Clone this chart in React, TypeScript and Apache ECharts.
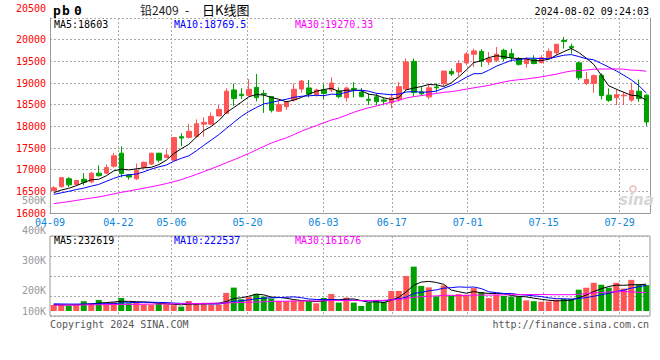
import React, { useEffect, useRef } from 'react';
import * as echarts from 'echarts';

const dates = [
  '04-09','04-10','04-11','04-12','04-15','04-16','04-17','04-18','04-19','04-22','04-23','04-24','04-25','04-26','04-29','04-30',
  '05-06','05-07','05-08','05-09','05-10','05-13','05-14','05-15','05-16','05-17','05-20','05-21','05-22','05-23','05-24','05-27','05-28','05-29','05-30','05-31',
  '06-03','06-04','06-05','06-06','06-07','06-11','06-12','06-13','06-14','06-17','06-18','06-19','06-20','06-21','06-24','06-25','06-26','06-27','06-28',
  '07-01','07-02','07-03','07-04','07-05','07-08','07-09','07-10','07-11','07-12','07-15','07-16','07-17','07-18','07-19','07-22','07-23','07-24','07-25','07-26','07-29','07-30','07-31',
  '08-01','08-02',
];

const opens = [
  16515,16605,16790,16660,16780,16720,16920,16920,17080,17380,
  16880,16790,17050,17130,17380,17280,17220,17760,17745,17770,
  18050,18050,18240,18300,18840,18740,18715,18900,18760,18690,
  18350,18455,18610,18860,18885,18730,18840,18840,18815,18660,
  18875,18790,18625,18680,18610,18545,18625,18860,19500,18795,
  18680,18910,18980,19270,19255,19465,19665,19730,19485,19525,
  19755,19680,19565,19450,19540,19470,19585,19695,19985,19845,
  19465,18990,18990,19180,18720,18660,18705,18605,18810,18720,
];
const closes = [
  16580,16815,16650,16750,16710,16920,16860,17050,17320,16910,
  16830,16980,17170,17380,17220,17340,17740,17730,17885,18060,
  18090,18230,18390,18810,18640,18710,18855,18660,18740,18370,
  18500,18560,18855,19045,18745,18840,18760,19000,18685,18885,
  18855,18685,18600,18570,18580,18660,18915,19485,18780,18750,
  18890,18890,19275,19210,19450,19670,19740,19505,19565,19665,
  19565,19585,19430,19540,19450,19585,19730,19895,19960,19815,
  19120,19080,19170,18710,18600,18730,18720,18825,18640,18100,
];
const lows = [
  16500,16590,16600,16640,16640,16690,16840,16900,17050,16820,
  16770,16760,17020,17110,17170,17270,17190,17540,17720,17740,
  17760,18030,18230,18280,18470,18630,18690,18575,18310,18320,
  18330,18380,18570,18775,18670,18685,18620,18790,18645,18570,
  18670,18670,18490,18485,18485,18415,18570,18835,18680,18720,
  18625,18780,18930,19165,19165,19410,19370,19370,19410,19485,
  19500,19500,19400,19355,19430,19450,19560,19640,19795,19680,
  19065,18950,18775,18620,18565,18490,18490,18565,18565,18005,
];
const highs = [
  16620,16830,16830,16760,16920,16950,17100,17120,17390,17540,
  16900,17140,17190,17390,17385,17470,17750,17840,18060,18160,
  18210,18320,18490,18880,18985,18880,19090,19210,18840,18700,
  18600,18590,18990,19070,19070,18870,18975,19130,18900,18915,
  19025,18885,18760,18760,18670,18760,19025,19565,19565,18910,
  18990,18990,19280,19335,19525,19715,19790,19780,19715,19830,
  19790,19790,19600,19600,19640,19640,19795,19895,20060,19910,
  19485,19255,19200,19220,18875,18850,18795,19005,19080,18740,
];
const volumes = [
  53000,53000,44000,50000,85000,67000,96000,67000,76000,113000,
  67000,79000,57000,55000,67000,58000,50000,38000,87000,70000,
  70000,56000,56000,157000,203000,102000,122000,148000,125000,108000,
  88000,85000,90000,86000,84000,67000,113000,148000,73000,116000,
  73000,44000,73000,96000,79000,174000,174000,304000,385000,218000,
  205000,127000,222000,136000,147000,141000,199000,165000,112000,141000,
  130000,125000,126000,92000,85000,81000,83000,98000,104000,105910,
  185000,202000,245000,228000,202275,245000,195000,270300,228000,224795,
];

// moving-average values for the days before a full window exists
const ma5Lead = [16470, 16530, 16570, 16630];
const ma10Lead = [16430, 16465, 16500, 16540, 16575, 16620, 16660, 16730, 16800];
const ma30Lead = [16215,16240,16262,16290,16318,16345,16372,16405,16440,16478,16505,16540,16572,16605,16640,16680,16722,16770,16828,16890,16955,17020,17088,17158,17228,17300,17372,17455,17535];
const volMa5Lead = [55000, 53000, 52000, 54000];
const volMa10Lead = [62000, 61000, 60000, 60000, 61000, 62000, 63000, 63000, 64000];
const volMa30Lead = [50000,51000,51000,52000,53000,54000,54000,55000,56000,57000,57000,58000,59000,60000,61000,61000,62000,63000,64000,65000,66000,67000,68000,70000,72000,74000,76000,78000,80000];

const labelIdx = [0, 9, 16, 26, 36, 45, 55, 65, 75];
const volAxisLabels = ['400K', '300K', '200K', '100K'];

const RED = '#FF5555';
const GREEN = '#00A000';
const MONO = '"DejaVu Sans Mono", monospace';
const GRID_LINE = { type: [2, 2] as any, color: '#aaaaaa', width: 1 };

function movingAverage(values: number[], n: number, lead: number[]) {
  return values.map((_, i) => {
    if (i < n - 1) return lead[i];
    let s = 0;
    for (let k = i - n + 1; k <= i; k++) s += values[k];
    return s / n;
  });
}
const fmt = (v: number) => String(Math.round(v * 100) / 100);

function txt(text: string, x: number, y: number, fill: string, align = 'left', font = `10px ${MONO}`) {
  return { type: 'text', x, y, silent: true, z: 100, style: { text, fill, font, align, verticalAlign: 'middle' } };
}

export default function App() {
  const ref = useRef<HTMLDivElement>(null);
  useEffect(() => {
    if (!ref.current) return;
    const chart = echarts.init(ref.current, null, { renderer: 'svg' });
    const ma5 = movingAverage(closes, 5, ma5Lead);
    const ma10 = movingAverage(closes, 10, ma10Lead);
    const ma30 = movingAverage(closes, 30, ma30Lead);
    const vma5 = movingAverage(volumes, 5, volMa5Lead);
    const vma10 = movingAverage(volumes, 10, volMa10Lead);
    const vma30 = movingAverage(volumes, 30, volMa30Lead);
    const last = dates.length - 1;
    const candles = dates.map((_, i) => [opens[i], closes[i], lows[i], highs[i]]);
    const volBars = volumes.map((v, i) => ({ value: v, itemStyle: { color: closes[i] >= opens[i] ? RED : GREEN } }));
    const showIdx = (i: number) => labelIdx.includes(i);
    const splitIdx = (i: number) => labelIdx.includes(i) && i !== 0;
    const lineSeries = (data: number[], color: string, xi: number, yi: number) => ({
      type: 'line', data, xAxisIndex: xi, yAxisIndex: yi, symbol: 'none', showSymbol: false,
      lineStyle: { width: 1, color }, itemStyle: { color }, z: 5, silent: true,
    });
    const volLabelY = [230, 260, 290, 311];

    const option: any = {
      animation: false,
      backgroundColor: '#ffffff',
      grid: [
        { left: 50, top: 18, width: 600, height: 195 },
        { left: 50, top: 236, width: 600, height: 80, show: true, borderColor: '#999999', borderWidth: 1, backgroundColor: 'transparent' },
      ],
      xAxis: [
        { type: 'category', gridIndex: 0, position: 'bottom', data: dates, boundaryGap: true, show: false },
        {
          type: 'category', gridIndex: 0, position: 'bottom', data: dates, boundaryGap: false,
          axisLine: { show: true, lineStyle: { color: '#999999' } },
          axisTick: { show: false },
          axisLabel: { interval: showIdx, color: '#0a85d9', fontFamily: MONO, fontSize: 10, margin: 4 },
          splitLine: { show: true, interval: splitIdx, lineStyle: GRID_LINE },
        },
        { type: 'category', gridIndex: 1, position: 'bottom', data: dates, boundaryGap: true, show: false },
        {
          type: 'category', gridIndex: 1, position: 'bottom', data: dates, boundaryGap: false,
          axisLine: { show: false }, axisTick: { show: false }, axisLabel: { show: false },
          splitLine: { show: true, interval: splitIdx, lineStyle: GRID_LINE },
        },
      ],
      yAxis: [
        {
          type: 'value', gridIndex: 0, position: 'left', min: 16000, max: 20500, interval: 500,
          axisLine: { show: true, lineStyle: { color: '#999999' } },
          axisTick: { show: false },
          axisLabel: {
            color: '#FF0000', fontFamily: MONO, fontSize: 10, margin: 4,
            formatter: (v: number) => (v === 20500 ? '{top|20500}' : String(v)),
            rich: { top: { color: '#FF0000', fontFamily: MONO, fontSize: 10, padding: [0, 0, 20, 0] } },
          },
          splitLine: { show: true, lineStyle: GRID_LINE },
        },
        {
          type: 'value', gridIndex: 0, position: 'right', min: 16000, max: 20500, interval: 500,
          axisLine: { show: true, lineStyle: { color: '#999999' } },
          axisTick: { show: false }, axisLabel: { show: false }, splitLine: { show: false },
        },
        {
          type: 'value', gridIndex: 1, position: 'left', min: 0, max: 4, interval: 1,
          axisLine: { show: false }, axisTick: { show: false }, axisLabel: { show: false },
          splitLine: { show: true, lineStyle: GRID_LINE },
        },
        {
          type: 'value', gridIndex: 1, position: 'left', min: -43400, max: 651000,
          axisLine: { show: false }, axisTick: { show: false }, axisLabel: { show: false },
          splitLine: { show: false },
        },
      ],
      series: [
        {
          type: 'candlestick', data: candles, xAxisIndex: 0, yAxisIndex: 0, barWidth: 5, silent: true,
          itemStyle: { color: RED, color0: GREEN, borderColor: RED, borderColor0: GREEN, borderWidth: 1 },
        },
        lineSeries(ma5, '#000000', 0, 0),
        lineSeries(ma10, '#0000FF', 0, 0),
        lineSeries(ma30, '#FF00FF', 0, 0),
        { type: 'bar', data: volBars, xAxisIndex: 2, yAxisIndex: 3, barWidth: 6, silent: true },
        lineSeries(vma5, '#000000', 2, 3),
        lineSeries(vma10, '#0000FF', 2, 3),
        lineSeries(vma30, '#FF00FF', 2, 3),
      ],
      graphic: [
        txt('p', 53, 10, '#000000', 'left', `bold 13px ${MONO}`),
        txt('b', 62, 10, '#000000', 'left', `bold 13px ${MONO}`),
        txt('0', 74, 10, '#000000', 'left', `bold 13px ${MONO}`),
        txt('铅2409', 140, 9, '#222222', 'left', '12px "Noto Sans CJK SC"'),
        txt('-', 185, 9, '#000000', 'left', '12px "Noto Sans CJK SC"'),
        txt('日K线图', 202, 9, '#000000', 'left', '13px "Noto Sans CJK SC"'),
        txt('2024-08-02 09:24:03', 649, 11, '#000000', 'right'),
        txt('MA5:' + fmt(ma5[last]), 54, 24, '#000000'),
        txt('MA10:' + fmt(ma10[last]), 174, 24, '#0000FF'),
        txt('MA30:' + fmt(ma30[last]), 295, 24, '#FF00FF'),
        txt('500K', 46, 200, '#999999', 'right'),
        ...volAxisLabels.map((t, k) => txt(t, 46, volLabelY[k], '#999999', 'right')),
        txt('MA5:' + fmt(vma5[last]), 54, 240, '#000000'),
        txt('MA10:' + fmt(vma10[last]), 174, 240, '#0000FF'),
        txt('MA30:' + fmt(vma30[last]), 295, 240, '#FF00FF'),
        txt('Copyright 2024 SINA.COM', 50, 324, '#555555'),
        txt('http://finance.sina.com.cn', 649, 324, '#555555', 'right'),
        { type: 'ring', shape: { cx: 633, cy: 189, r: 4, r0: 2 }, style: { fill: '#efc9c9' }, silent: true, z: 1 },
        txt('sina', 619, 200, '#d6d6d6', 'left', `italic bold 15px "DejaVu Sans", sans-serif`),
      ],
    };
    chart.setOption(option);
    return () => chart.dispose();
  }, []);
  return (
    <div
      ref={ref}
      style={{ position: 'absolute', left: 0, top: 0, width: 660, height: 360, background: '#ffffff' }}
    />
  );
}
